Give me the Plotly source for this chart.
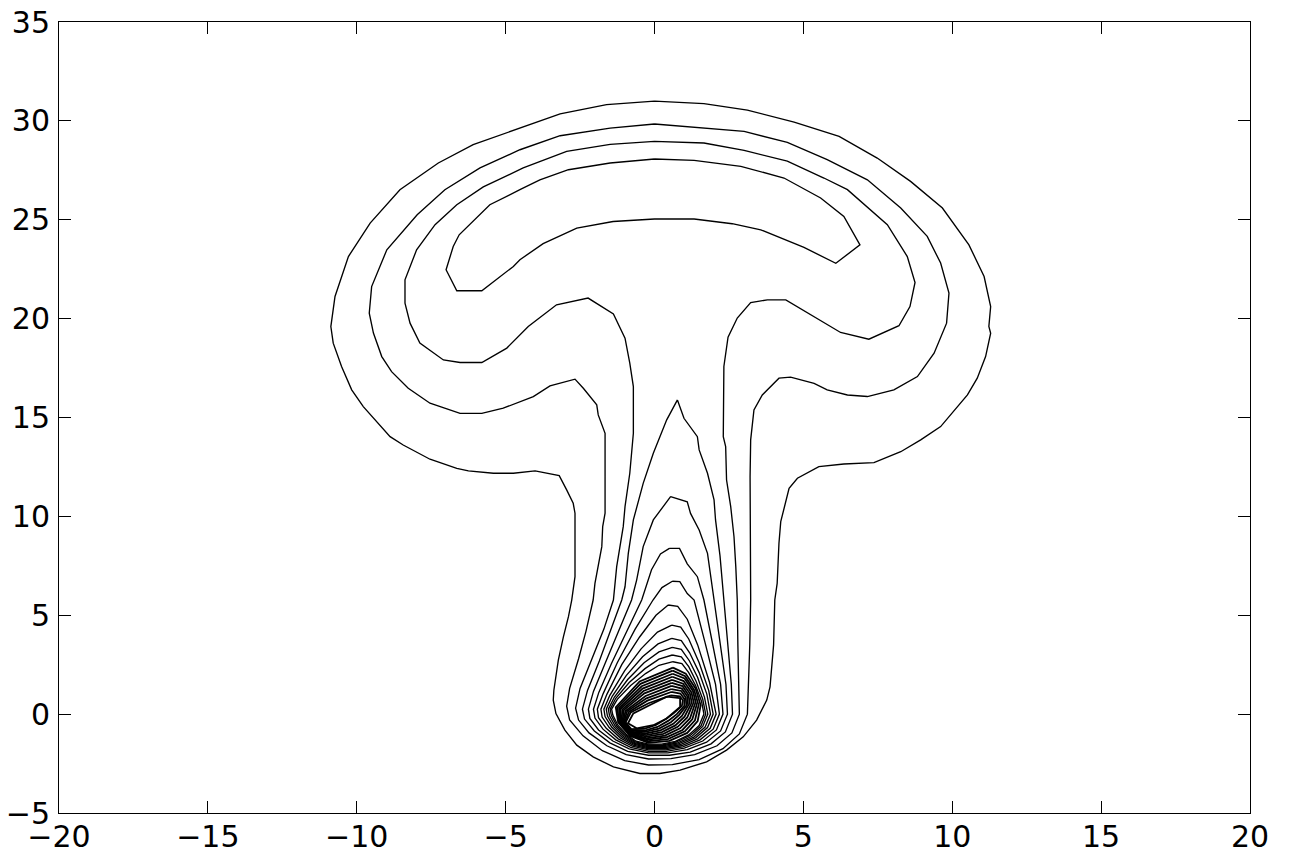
import plotly.graph_objects as go

# ---- axis ticks ----
x_ticks = [-20, -15, -10, -5, 0, 5, 10, 15, 20]
y_ticks = [-5, 0, 5, 10, 15, 20, 25, 30, 35]

# ---- contour lines (data coordinates) ----
c1 = [(0, 31.0), (1.66, 30.87), (3.12, 30.54), (4.69, 29.94), (6.20, 29.22), (7.48, 28.12), (8.60, 26.94),
      (9.67, 25.59), (10.56, 23.73), (11.07, 22.13), (11.29, 20.61), (11.23, 19.60), (11.29, 19.26),
      (11.12, 18.08), (10.84, 16.99), (10.51, 16.14), (9.61, 14.54), (8.94, 13.87), (8.27, 13.27),
      (7.37, 12.72), (6.36, 12.65), (5.52, 12.52), (4.80, 11.93), (4.52, 11.42), (4.24, 9.73), (4.18, 8.64),
      (4.12, 6.61), (4.04, 5.77), (4.0, 3.5), (3.88, 1.38), (3.77, 0.71), (3.43, -0.30), (2.98, -1.15),
      (2.42, -1.82), (1.75, -2.41), (0.86, -2.83), (0.18, -3.00), (-0.49, -3.00), (-1.38, -2.67),
      (-2.06, -2.16), (-2.61, -1.57), (-3.01, -0.81), (-3.31, 0.03), (-3.40, 0.71), (-3.38, 1.21),
      (-3.23, 2.73), (-3.06, 3.91), (-2.89, 4.93), (-2.78, 5.77), (-2.67, 6.95), (-2.67, 10.16),
      (-2.73, 10.66), (-2.95, 11.34), (-3.20, 12.06), (-4.01, 12.30), (-4.74, 12.18), (-5.41, 12.18),
      (-6.25, 12.30), (-6.64, 12.43), (-7.54, 12.89), (-8.44, 13.61), (-8.88, 14.03), (-9.78, 15.55),
      (-10.17, 16.40), (-10.51, 17.58), (-10.79, 18.76), (-10.87, 19.60), (-10.73, 21.12), (-10.28, 23.14),
      (-9.55, 24.83), (-8.55, 26.52), (-7.26, 27.87), (-6.09, 28.80), (-4.74, 29.52), (-3.17, 30.35),
      (-1.61, 30.82), (0, 31.0)]

c2 = [(0, 29.84), (3.01, 29.47), (4.46, 28.91), (5.80, 28.04), (7.15, 27.02), (8.27, 25.59), (9.16, 24.16),
      (9.61, 22.81), (9.89, 21.29), (9.81, 19.77), (9.39, 18.25), (8.83, 17.07), (8.04, 16.40), (7.15, 16.06),
      (6.48, 16.14), (5.80, 16.40), (5.36, 16.73), (4.57, 17.04), (4.18, 16.99), (3.62, 16.14), (3.34, 15.38),
      (3.23, 13.87), (3.21, 12.01), (3.23, 5.77), (3.2, 3.5), (3.16, 1.5), (3.12, 0.0), (2.85, -1.0),
      (2.3, -1.75), (1.5, -2.3), (0.6, -2.55), (-0.2, -2.57), (-1.0, -2.35), (-1.75, -1.85), (-2.4, -1.1),
      (-2.85, -0.3), (-2.95, 0.4), (-2.85, 1.3), (-2.55, 2.8), (-2.3, 4.2), (-2.06, 5.77), (-2.00, 6.61),
      (-1.89, 7.46), (-1.77, 8.47), (-1.74, 9.48), (-1.66, 10.16), (-1.66, 14.20), (-1.89, 15.13),
      (-1.94, 15.64), (-2.39, 16.48), (-2.67, 16.94), (-3.51, 16.60), (-4.07, 16.06), (-5.08, 15.47),
      (-5.80, 15.21), (-6.53, 15.21), (-7.54, 15.72), (-8.27, 16.48), (-8.83, 17.32), (-9.16, 18.08),
      (-9.44, 19.27), (-9.58, 20.28), (-9.50, 21.62), (-8.99, 23.48), (-7.97, 25.25), (-7.04, 26.52),
      (-5.86, 27.62), (-4.52, 28.54), (-3.17, 29.25), (-1.49, 29.63), (0, 29.84)]

c3 = [(0, 28.96), (1.66, 28.88), (3.01, 28.51), (4.46, 27.96), (5.69, 27.11), (6.48, 26.52), (7.82, 24.75),
      (8.49, 23.14), (8.75, 21.83), (8.58, 20.61), (8.21, 19.64), (7.20, 18.96), (6.25, 19.30), (5.36, 20.11),
      (4.58, 20.78), (4.41, 20.95), (3.79, 20.95), (3.23, 20.81), (2.78, 20.03), (2.47, 19.06), (2.33, 17.58),
      (2.31, 14.03), (2.39, 13.53), (2.42, 11.84), (2.56, 10.49), (2.67, 8.97), (2.73, 7.46), (2.78, 5.77),
      (2.8, 3.5), (2.84, 1.5), (2.85, 0.0), (2.6, -0.95), (2.1, -1.6), (1.35, -2.05), (0.55, -2.25),
      (-0.2, -2.27), (-0.95, -2.05), (-1.6, -1.6), (-2.2, -0.95), (-2.55, -0.3), (-2.65, 0.3), (-2.5, 1.3),
      (-2.1, 2.8), (-1.7, 4.3), (-1.38, 5.77), (-1.27, 7.46), (-1.05, 9.48), (-0.99, 10.49), (-0.83, 12.18),
      (-0.71, 14.20), (-0.71, 16.56), (-0.83, 17.75), (-0.99, 19.01), (-1.38, 20.24), (-2.23, 21.04),
      (-3.29, 20.70), (-4.24, 19.60), (-4.96, 18.51), (-5.80, 17.78), (-6.53, 17.78), (-7.09, 17.91),
      (-7.88, 18.76), (-8.21, 19.77), (-8.38, 20.78), (-8.38, 21.96), (-7.99, 23.48), (-7.37, 24.75),
      (-6.64, 25.76), (-5.75, 26.66), (-4.41, 27.62), (-2.95, 28.46), (-1.49, 28.81), (0, 28.96)]

c4 = [(0, 28.07), (1.33, 28.00), (2.90, 27.70), (4.35, 27.11), (5.58, 26.10), (6.36, 25.17), (6.90, 23.73),
      (6.09, 22.80), (5.02, 23.60), (3.57, 24.49), (2.61, 24.80), (1.33, 25.04), (0, 25.04), (-1.39, 24.91),
      (-2.61, 24.58), (-3.74, 23.79), (-4.52, 22.98), (-4.74, 22.64), (-5.80, 21.41), (-6.64, 21.41),
      (-7.00, 22.47), (-6.76, 23.65), (-6.56, 24.24), (-5.97, 25.09), (-5.53, 25.76), (-4.52, 26.52),
      (-3.85, 27.02), (-2.89, 27.53), (-1.49, 27.87), (0, 28.07)]

c5 = [(0.77, 15.89), (0.99, 14.96), (1.44, 14.03), (1.50, 13.36), (1.78, 12.18), (2.00, 10.83), (2.05, 9.82),
      (2.2, 8.0), (2.33, 5.77), (2.45, 3.5), (2.58, 1.5), (2.62, 0.0), (2.38, -0.9), (1.9, -1.5), (1.2, -1.92),
      (0.5, -2.08), (-0.2, -2.08), (-0.9, -1.88), (-1.5, -1.45), (-2.02, -0.85), (-2.35, -0.25), (-2.42, 0.25),
      (-2.25, 1.2), (-1.85, 2.7), (-1.45, 4.3), (-1.10, 5.77), (-0.99, 6.44), (-0.88, 8.13), (-0.71, 9.82),
      (-0.38, 11.67), (-0.04, 13.19), (0.41, 14.88), (0.77, 15.89)]

p1 = [(0.54, 11.0), (1.10, 10.74), (1.21, 10.15), (1.50, 9.31), (1.78, 8.13), (2.0, 5.77), (2.2, 3.5),
      (2.4, 1.5), (2.45, 0.0), (2.22, -0.85), (1.75, -1.42), (1.1, -1.8), (0.45, -1.96), (-0.2, -1.96),
      (-0.85, -1.76), (-1.4, -1.36), (-1.88, -0.8), (-2.17, -0.22), (-2.22, 0.25), (-2.05, 1.15),
      (-1.65, 2.6), (-1.2, 4.2), (-0.77, 5.77), (-0.60, 6.78), (-0.38, 8.47), (-0.04, 9.82), (0.54, 11.0)]

p2 = [(0.5, 8.38), (0.84, 8.38), (1.10, 7.6), (1.44, 6.95), (1.66, 5.77), (1.95, 3.5), (2.22, 1.5),
      (2.3, 0.0), (2.08, -0.8), (1.62, -1.36), (1.0, -1.72), (0.4, -1.88), (-0.2, -1.88), (-0.8, -1.68),
      (-1.3, -1.3), (-1.73, -0.76), (-2.0, -0.2), (-2.05, 0.25), (-1.87, 1.1), (-1.45, 2.55), (-0.95, 4.1),
      (-0.43, 5.77), (-0.1, 7.3), (0.2, 8.1), (0.5, 8.38)]

p3 = [(0.6, 6.72), (0.85, 6.7), (1.1, 6.1), (1.33, 5.77), (1.7, 3.6), (2.05, 1.5), (2.18, 0.0),
      (1.97, -0.76), (1.53, -1.3), (0.95, -1.66), (0.38, -1.81), (-0.2, -1.81), (-0.75, -1.62),
      (-1.22, -1.25), (-1.62, -0.72), (-1.88, -0.18), (-1.92, 0.25), (-1.72, 1.05), (-1.25, 2.6),
      (-0.65, 4.3), (-0.05, 5.77), (0.25, 6.4), (0.6, 6.72)]

p4 = [(0.46, 5.52), (0.78, 5.45), (1.1, 4.8), (1.45, 3.5), (1.85, 1.6), (2.07, 0.0), (1.87, -0.72),
      (1.45, -1.25), (0.9, -1.6), (0.35, -1.75), (-0.2, -1.75), (-0.72, -1.57), (-1.15, -1.2),
      (-1.52, -0.68), (-1.76, -0.15), (-1.8, 0.25), (-1.6, 1.0), (-1.1, 2.5), (-0.5, 3.9), (0.05, 5.0),
      (0.46, 5.52)]

p5 = [(0.58, 4.5), (0.88, 4.4), (1.15, 3.8), (1.5, 2.6), (1.82, 1.2), (1.97, 0.0), (1.78, -0.68),
      (1.38, -1.2), (0.85, -1.55), (0.32, -1.7), (-0.2, -1.7), (-0.7, -1.52), (-1.1, -1.16), (-1.44, -0.65),
      (-1.66, -0.12), (-1.7, 0.25), (-1.5, 0.95), (-1.0, 2.2), (-0.45, 3.3), (0.1, 4.15), (0.58, 4.5)]

p6 = [(0.58, 3.83), (0.9, 3.72), (1.18, 3.1), (1.5, 2.1), (1.76, 1.0), (1.88, 0.0), (1.7, -0.65),
      (1.32, -1.16), (0.8, -1.5), (0.3, -1.65), (-0.2, -1.65), (-0.68, -1.48), (-1.06, -1.12),
      (-1.38, -0.62), (-1.58, -0.1), (-1.62, 0.25), (-1.42, 0.9), (-0.95, 1.95), (-0.4, 2.9), (0.12, 3.55),
      (0.58, 3.83)]

p7 = [(0.6, 3.38), (0.9, 3.28), (1.17, 2.7), (1.45, 1.85), (1.68, 0.85), (1.79, 0.0), (1.62, -0.62),
      (1.26, -1.12), (0.76, -1.46), (0.28, -1.6), (-0.2, -1.6), (-0.66, -1.44), (-1.02, -1.08),
      (-1.32, -0.6), (-1.51, -0.08), (-1.55, 0.25), (-1.35, 0.85), (-0.9, 1.75), (-0.35, 2.6), (0.15, 3.15),
      (0.6, 3.38)]

p8 = [(0.6, 2.99), (0.9, 2.9), (1.15, 2.4), (1.4, 1.65), (1.62, 0.75), (1.72, 0.0), (1.56, -0.6),
      (1.2, -1.08), (0.72, -1.42), (0.26, -1.56), (-0.2, -1.56), (-0.64, -1.4), (-0.98, -1.05),
      (-1.27, -0.58), (-1.45, -0.06), (-1.49, 0.25), (-1.3, 0.8), (-0.85, 1.6), (-0.32, 2.3), (0.15, 2.78),
      (0.6, 2.99)]

p9 = [(0.62, 2.65), (0.92, 2.55), (1.15, 2.1), (1.38, 1.45), (1.58, 0.65), (1.66, 0.0), (1.5, -0.58),
      (1.15, -1.05), (0.7, -1.38), (0.24, -1.52), (-0.2, -1.52), (-0.62, -1.37), (-0.95, -1.02),
      (-1.23, -0.56), (-1.4, -0.05), (-1.44, 0.25), (-1.25, 0.75), (-0.8, 1.45), (-0.3, 2.05), (0.15, 2.47),
      (0.62, 2.65)]

# dense rings around the peak (outer to inner)
r00 = [(0.62, 2.35), (1.05, 2.05), (1.38, 1.30), (1.55, 0.45), (1.45, -0.35), (1.10, -0.95), (0.50, -1.35),
       (-0.20, -1.45), (-0.82, -1.10), (-1.22, -0.42), (-1.30, 0.35), (-0.50, 1.65), (0.62, 2.35)]
r01 = [(0.61, 2.20), (1.03, 1.92), (1.33, 1.23), (1.48, 0.45), (1.36, -0.31), (1.02, -0.87), (0.45, -1.26),
       (-0.22, -1.37), (-0.82, -1.06), (-1.19, -0.42), (-1.25, 0.32), (-0.47, 1.53), (0.61, 2.20)]
r02 = [(0.61, 2.04), (1.01, 1.80), (1.29, 1.17), (1.41, 0.44), (1.27, -0.26), (0.94, -0.80), (0.40, -1.17),
       (-0.23, -1.29), (-0.81, -1.03), (-1.17, -0.42), (-1.19, 0.29), (-0.43, 1.41), (0.61, 2.04)]
r03 = [(0.60, 1.89), (0.98, 1.67), (1.24, 1.10), (1.34, 0.44), (1.19, -0.22), (0.86, -0.72), (0.35, -1.09),
       (-0.25, -1.22), (-0.81, -0.99), (-1.14, -0.42), (-1.14, 0.26), (-0.40, 1.29), (0.60, 1.89)]
r04 = [(0.59, 1.73), (0.96, 1.54), (1.19, 1.04), (1.27, 0.44), (1.10, -0.17), (0.78, -0.64), (0.30, -1.00),
       (-0.27, -1.14), (-0.80, -0.95), (-1.11, -0.42), (-1.08, 0.23), (-0.37, 1.17), (0.59, 1.73)]
r05 = [(0.58, 1.58), (0.94, 1.42), (1.14, 0.97), (1.20, 0.43), (1.01, -0.13), (0.70, -0.57), (0.25, -0.91),
       (-0.28, -1.06), (-0.80, -0.91), (-1.08, -0.42), (-1.03, 0.20), (-0.34, 1.05), (0.58, 1.58)]
r06 = [(0.57, 1.43), (0.92, 1.29), (1.10, 0.90), (1.13, 0.43), (0.92, -0.09), (0.63, -0.49), (0.20, -0.82),
       (-0.30, -0.98), (-0.79, -0.88), (-1.06, -0.42), (-0.97, 0.17), (-0.30, 0.92), (0.57, 1.43)]
r07 = [(0.57, 1.27), (0.90, 1.17), (1.05, 0.84), (1.07, 0.43), (0.83, -0.04), (0.55, -0.41), (0.15, -0.73),
       (-0.32, -0.90), (-0.79, -0.84), (-1.03, -0.42), (-0.92, 0.14), (-0.27, 0.80), (0.57, 1.27)]
r08 = [(0.56, 1.12), (0.87, 1.04), (1.00, 0.77), (1.00, 0.42), (0.75, 0.00), (0.47, -0.33), (0.10, -0.65),
       (-0.33, -0.83), (-0.79, -0.80), (-1.00, -0.42), (-0.86, 0.11), (-0.24, 0.68), (0.56, 1.12)]
r09 = [(0.55, 0.95), (0.85, 0.90), (0.95, 0.70), (0.92, 0.42), (0.65, 0.05), (0.38, -0.25), (0.05, -0.55),
       (-0.35, -0.74), (-0.78, -0.76), (-0.97, -0.42), (-0.80, 0.08), (-0.20, 0.55), (0.55, 0.95)]
core = [(0.86, 0.81), (0.41, 0.88), (-0.15, 0.46), (-0.71, 0.04), (-0.89, -0.46), (-0.60, -0.72),
        (-0.04, -0.56), (0.41, -0.22), (0.86, 0.37), (0.86, 0.81)]

outer_contours = [c1, c2, c3, c4, c5, p1, p2, p3, p4, p5, p6, p7, p8, p9]
dense_contours = [r00, r01, r02, r03, r04, r05, r06, r07, r08, r09, core]

fig = go.Figure()
for line in outer_contours:
    fig.add_trace(go.Scatter(
        x=[p[0] for p in line], y=[p[1] for p in line],
        mode="lines", line=dict(color="black", width=1.35),
        hoverinfo="skip", showlegend=False))
for line in dense_contours:
    fig.add_trace(go.Scatter(
        x=[p[0] for p in line], y=[p[1] for p in line],
        mode="lines", line=dict(color="black", width=1.8),
        hoverinfo="skip", showlegend=False))

axis_common = dict(
    showgrid=False, zeroline=False, showline=True, linecolor="black", linewidth=1,
    mirror="ticks", ticks="inside", ticklen=12, tickwidth=1, tickcolor="black",
    tickfont=dict(family="DejaVu Sans", size=30, color="black"), automargin=False,
)
fig.update_xaxes(range=[-20, 20], tickvals=x_ticks, ticklabelstandoff=-3, **axis_common)
fig.update_yaxes(range=[-5, 35], tickvals=y_ticks, ticklabelstandoff=2, **axis_common)

fig.update_layout(
    width=1290, height=854,
    margin=dict(l=59, r=40, t=22, b=41, pad=0),
    plot_bgcolor="white", paper_bgcolor="white",
)

fig.write_html("out.html", config={"displayModeBar": False},
               post_script="document.body.style.margin='0';document.body.style.overflow='hidden';")
